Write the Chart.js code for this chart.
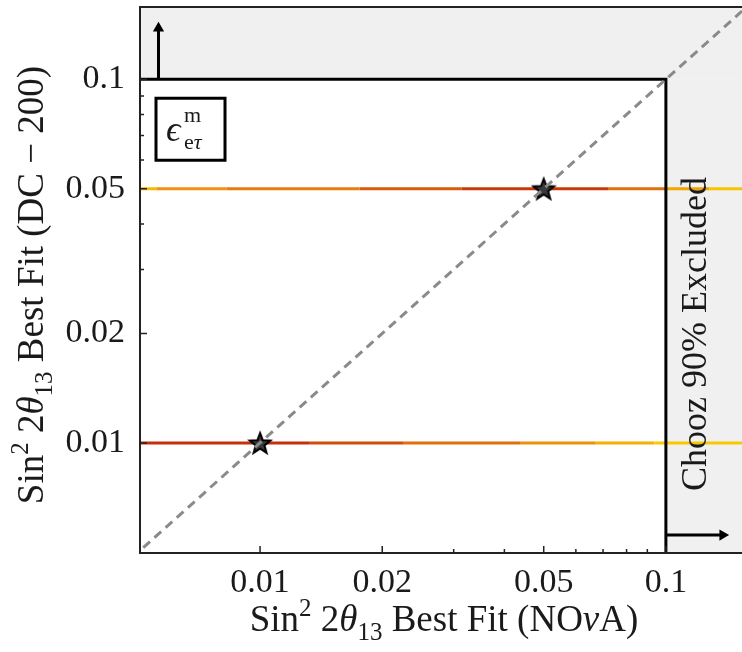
<!DOCTYPE html>
<html>
<head>
<meta charset="utf-8">
<script src="https://cdn.jsdelivr.net/npm/chart.js@4/dist/chart.umd.min.js"></script>
<style>
  html, body { margin: 0; padding: 0; background: #ffffff; overflow: hidden; }
  #wrap { position: absolute; left: 0; top: 0; width: 742px; height: 652px; }
</style>
</head>
<body>
<div id="wrap"><canvas id="fit" width="742" height="652"></canvas></div>
<script>
// Axis ranges (log scale)
const xRange = [0.00506, 0.154];
const yRange = [0.00498, 0.158];

// Tick positions and printed labels
const xTickValues = [0.01, 0.02, 0.03, 0.04, 0.05, 0.06, 0.07, 0.08, 0.09, 0.1];
const yTickValues = [0.01, 0.02, 0.03, 0.04, 0.05, 0.06, 0.07, 0.08, 0.09, 0.1];
const labeledTicks = [0.01, 0.02, 0.05, 0.1];
const tickLabels = ['0.01', '0.02', '0.05', '0.1'];

// Chooz 90% limit on sin^2 2theta13
const choozLimit = 0.1;

// Best fit points: NOvA vs Double Chooz (200)
const bestFitNOvA = [0.01, 0.05];
const bestFitDC = [0.01, 0.05];

// Horizontal bands: break points along NOvA axis and the colour of each piece
const upperBandX = [0.004, 0.00557, 0.00828, 0.0176, 0.0314, 0.072, 0.1, 0.128, 0.2];
const upperBandColors = ['#f6b800', '#ef9212', '#e77c0c', '#d95a0a', '#c9380a', '#e0700e', '#f2a400', '#f8c400'];
const lowerBandX = [0.004, 0.0132, 0.0226, 0.0437, 0.0672, 0.0937, 0.2];
const lowerBandColors = ['#c5300c', '#d24c0a', '#e26e0e', '#ee900c', '#f5b000', '#f8c800'];

// Exclusion arrows (start and end of each arrow)
const upArrowX = [0.00562, 0.00562];
const upArrowY = [0.1, 0.138];
const rightArrowX = [0.1, 0.138];
const rightArrowY = [0.00558, 0.00558];

// Diagonal y = x
const diagonal = [0.004, 0.2];

const SERIF = "'Liberation Serif', 'Times New Roman', 'DejaVu Serif', serif";
const INK = '#1a1a1a';

function starImage(r) {
  const c = document.createElement('canvas');
  const s = Math.ceil(r * 2 + 4);
  c.width = s; c.height = s;
  const g = c.getContext('2d');
  g.translate(s / 2, s / 2 + 1);
  g.beginPath();
  for (let i = 0; i < 10; i++) {
    const rad = i % 2 === 0 ? r : r * 0.42;
    const a = -Math.PI / 2 + i * Math.PI / 5;
    const px = rad * Math.cos(a), py = rad * Math.sin(a);
    if (i === 0) g.moveTo(px, py); else g.lineTo(px, py);
  }
  g.closePath();
  g.fillStyle = '#3a3a3a';
  g.fill();
  g.lineWidth = 2;
  g.strokeStyle = '#000';
  g.stroke();
  return c;
}

function fontOf(r) {
  return (r.italic ? 'italic ' : '') + r.size + 'px ' + SERIF;
}

// Draw a run of text pieces (with super/subscripts) centred on x, baseline y
function drawRich(ctx, runs, x, y, angle, align) {
  ctx.save();
  ctx.translate(x, y);
  if (angle) ctx.rotate(angle);
  ctx.fillStyle = INK;
  ctx.textBaseline = 'alphabetic';
  ctx.textAlign = 'left';
  let total = 0;
  runs.forEach(r => { ctx.font = fontOf(r); r.w = ctx.measureText(r.t).width; total += r.w; });
  let cx = align === 'left' ? 0 : -total / 2;
  runs.forEach(r => { ctx.font = fontOf(r); ctx.fillText(r.t, cx + (r.dx || 0), r.dy || 0); cx += r.w; });
  ctx.restore();
}

const xTitle = [
  { t: 'Sin', size: 37 }, { t: '2', size: 25, dy: -15 }, { t: ' 2', size: 37 },
  { t: 'θ', size: 37, italic: true }, { t: '13', size: 25, dy: 9 },
  { t: ' Best Fit (NO', size: 37 }, { t: 'ν', size: 37, italic: true }, { t: 'A)', size: 37 }
];
const yTitle = [
  { t: 'Sin', size: 37 }, { t: '2', size: 25, dy: -15 }, { t: ' 2', size: 37 },
  { t: 'θ', size: 37, italic: true }, { t: '13', size: 25, dy: 9 },
  { t: ' Best Fit (DC − 200)', size: 37 }
];

const decorations = {
  id: 'decorations',
  beforeDatasetsDraw(chart) {
    const { ctx, chartArea: a, scales: { x, y } } = chart;
    const xl = x.getPixelForValue(choozLimit);
    const yl = y.getPixelForValue(choozLimit);
    ctx.save();
    ctx.fillStyle = '#f0f0f0';
    ctx.fillRect(a.left, a.top, a.right - a.left, yl - a.top);
    ctx.fillRect(xl, yl, a.right - xl, a.bottom - yl);
    ctx.restore();
  },
  afterDatasetsDraw(chart) {
    const { ctx, chartArea: a, scales: { x, y } } = chart;
    ctx.save();
    // frame
    ctx.strokeStyle = '#222';
    ctx.lineWidth = 2;
    ctx.beginPath();
    ctx.moveTo(a.right + 2, a.top);
    ctx.lineTo(a.left, a.top);
    ctx.lineTo(a.left, a.bottom);
    ctx.lineTo(a.right + 2, a.bottom);
    ctx.stroke();
    // inward tick marks
    ctx.lineWidth = 1.5;
    ctx.beginPath();
    xTickValues.forEach(v => {
      const px = x.getPixelForValue(v);
      const len = labeledTicks.includes(v) ? 7 : 4;
      ctx.moveTo(px, a.bottom); ctx.lineTo(px, a.bottom - len);
    });
    yTickValues.forEach(v => {
      const py = y.getPixelForValue(v);
      const len = labeledTicks.includes(v) ? 7 : 4;
      ctx.moveTo(a.left, py); ctx.lineTo(a.left + len, py);
    });
    ctx.stroke();
    // legend box
    const bx = a.left + 16, by = y.getPixelForValue(choozLimit) + 19;
    ctx.lineWidth = 3;
    ctx.strokeStyle = '#000';
    ctx.strokeRect(bx, by, 69, 62);
    ctx.restore();
    drawRich(ctx, [{ t: 'ϵ', size: 36, italic: true }], bx + 10, by + 43, 0, 'left');
    drawRich(ctx, [{ t: 'm', size: 22 }], bx + 28, by + 24, 0, 'left');
    drawRich(ctx, [{ t: 'e', size: 22 }, { t: 'τ', size: 22, italic: true }], bx + 28, by + 51, 0, 'left');
    // exclusion label
    const xl = x.getPixelForValue(choozLimit);
    drawRich(ctx, [{ t: 'Chooz 90% Excluded', size: 36 }], xl + 40, (a.top + a.bottom) / 2 + 54, -Math.PI / 2);
    // axis titles
    drawRich(ctx, xTitle, 444, 631, 0);
    drawRich(ctx, yTitle, 43, 285, -Math.PI / 2);
  }
};

function tickLabel(value) {
  const i = labeledTicks.findIndex(v => Math.abs(v - value) < 1e-9);
  return i >= 0 ? tickLabels[i] : '';
}

const starPt = starImage(11);

new Chart(document.getElementById('fit'), {
  type: 'line',
  data: {
    datasets: [
      {
        label: 'diagonal',
        data: diagonal.map(v => ({ x: v, y: v })),
        borderColor: '#8a8a8a', borderWidth: 3, borderDash: [9, 6],
        pointRadius: 0, order: 0
      },
      {
        label: 'best fit',
        data: bestFitNOvA.map((v, i) => ({ x: v, y: bestFitDC[i] })),
        showLine: false, pointStyle: starPt, pointRadius: 11, order: 1
      },
      {
        label: 'chooz box',
        data: [{ x: xRange[0] * 0.8, y: choozLimit }, { x: choozLimit, y: choozLimit }, { x: choozLimit, y: yRange[0] * 0.8 }],
        borderColor: '#000', borderWidth: 3, pointRadius: 0, order: 2
      },
      {
        label: 'up arrow',
        data: upArrowX.map((v, i) => ({ x: v, y: upArrowY[i] })),
        borderColor: '#000', borderWidth: 3, order: 2,
        pointRadius: [0, 3.5], pointStyle: 'triangle', pointRotation: 0,
        pointBackgroundColor: '#000', pointBorderColor: '#000'
      },
      {
        label: 'right arrow',
        data: rightArrowX.map((v, i) => ({ x: v, y: rightArrowY[i] })),
        borderColor: '#000', borderWidth: 3, order: 2,
        pointRadius: [0, 3.5], pointStyle: 'triangle', pointRotation: 90,
        pointBackgroundColor: '#000', pointBorderColor: '#000'
      },
      {
        label: 'DC 0.05',
        data: upperBandX.map(v => ({ x: v, y: bestFitDC[1] })),
        borderWidth: 3, pointRadius: 0, order: 5, borderColor: upperBandColors[0],
        segment: { borderColor: c => upperBandColors[c.p0DataIndex] }
      },
      {
        label: 'DC 0.01',
        data: lowerBandX.map(v => ({ x: v, y: bestFitDC[0] })),
        borderWidth: 3, pointRadius: 0, order: 5, borderColor: lowerBandColors[0],
        segment: { borderColor: c => lowerBandColors[c.p0DataIndex] }
      }
    ]
  },
  options: {
    responsive: false,
    devicePixelRatio: 1,
    animation: false,
    layout: { autoPadding: false, padding: { top: 7, right: 0, bottom: 0, left: 0 } },
    plugins: { legend: { display: false }, tooltip: { enabled: false } },
    scales: {
      x: {
        type: 'logarithmic', min: xRange[0], max: xRange[1],
        grid: { display: false, drawTicks: false }, border: { display: false },
        afterBuildTicks: s => { s.ticks = xTickValues.map(v => ({ value: v })); },
        afterFit: s => { s.height = 99; s.paddingLeft = 0; s.paddingRight = 0; },
        ticks: {
          autoSkip: false, maxRotation: 0, padding: 10, color: INK,
          font: { family: SERIF, size: 34 },
          callback: v => tickLabel(v)
        }
      },
      y: {
        type: 'logarithmic', min: yRange[0], max: yRange[1],
        grid: { display: false, drawTicks: false }, border: { display: false },
        afterBuildTicks: s => { s.ticks = yTickValues.map(v => ({ value: v })); },
        afterFit: s => { s.width = 140; s.paddingTop = 0; s.paddingBottom = 0; },
        ticks: {
          autoSkip: false, padding: 15, color: INK,
          font: { family: SERIF, size: 34 },
          callback: v => tickLabel(v)
        }
      }
    }
  },
  plugins: [decorations]
});
</script>
</body>
</html>
